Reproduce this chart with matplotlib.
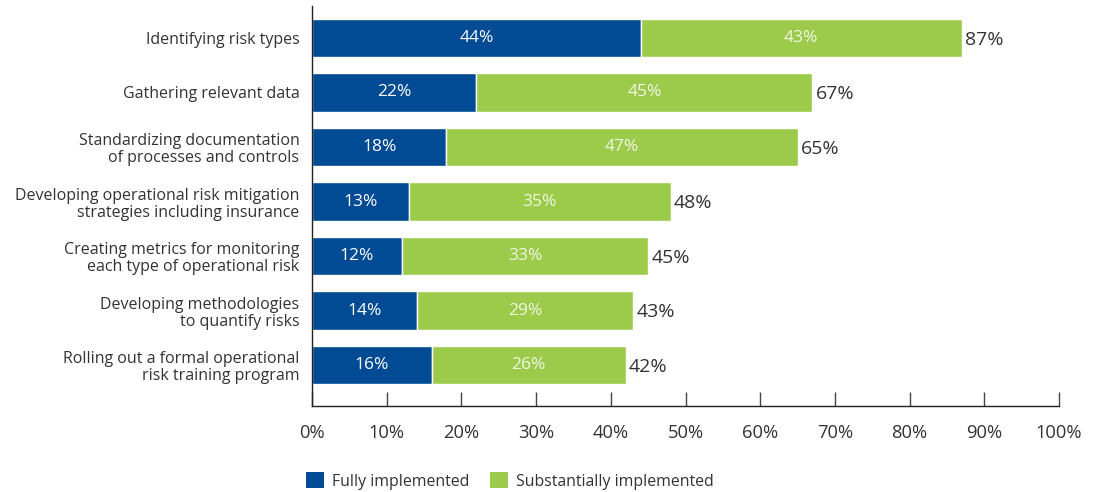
import matplotlib
matplotlib.use("Agg")
import matplotlib.pyplot as plt
from matplotlib.patches import Patch

categories = [
    "Identifying risk types",
    "Gathering relevant data",
    "Standardizing documentation\nof processes and controls",
    "Developing operational risk mitigation\nstrategies including insurance",
    "Creating metrics for monitoring\neach type of operational risk",
    "Developing methodologies\nto quantify risks",
    "Rolling out a formal operational\nrisk training program",
]
fully = [44, 22, 18, 13, 12, 14, 16]
substantially = [43, 45, 47, 35, 33, 29, 26]
totals = [87, 67, 65, 48, 45, 43, 42]
tick_values = [0, 10, 20, 30, 40, 50, 60, 70, 80, 90, 100]

BLUE = "#004B93"
GREEN = "#9CCB4B"
TEXT = "#333333"

plt.rcParams["font.family"] = ["Open Sans", "DejaVu Sans"]

fig = plt.figure(figsize=(10.93, 4.92), dpi=100)
ax = fig.add_axes([312 / 1093, 1 - 406 / 492, (1059 - 312) / 1093, 400 / 492])

ypos = list(range(len(categories)))
ax.barh(ypos, fully, height=0.7, color=BLUE, edgecolor="white", linewidth=1)
ax.barh(ypos, substantially, left=fully, height=0.7, color=GREEN,
        edgecolor="white", linewidth=1)

for y, f, s, t in zip(ypos, fully, substantially, totals):
    ax.text(f / 2, y, f"{f}%", ha="center", va="center", color="white", fontsize=12.5)
    ax.text(f + s / 2, y, f"{s}%", ha="center", va="center", color="#F0F6E4", fontsize=12.5)
    ax.text(t + 0.4, y + 0.03, f"{t}%", ha="left", va="center", color=TEXT, fontsize=14)

ax.set_xlim(0, 100)
ax.set_ylim(6.752, -0.587)
ax.set_yticks(ypos)
ax.set_yticklabels(categories, fontsize=11.5, color=TEXT, linespacing=1.12)
ax.tick_params(axis="y", length=0, pad=9)
ax.set_xticks(tick_values)
ax.set_xticklabels([f"{v}%" for v in tick_values], fontsize=13.2, color=TEXT)
ax.tick_params(axis="x", direction="in", length=10, width=1, color="#444444", pad=13)

for side in ("top", "right"):
    ax.spines[side].set_visible(False)
for side in ("left", "bottom"):
    ax.spines[side].set_color("#222222")
    ax.spines[side].set_linewidth(1)

handles = [Patch(facecolor=BLUE, label="Fully implemented"),
           Patch(facecolor=GREEN, label="Substantially implemented")]
fig.legend(handles=handles, loc="center left", bbox_to_anchor=(292 / 1093, 1 - 481 / 492),
           ncol=2, frameon=False, fontsize=11.4, handlelength=1.14, handleheight=1.14,
           handletextpad=0.5, columnspacing=1.3, labelcolor=TEXT)

fig.savefig("out.png", dpi=100)
